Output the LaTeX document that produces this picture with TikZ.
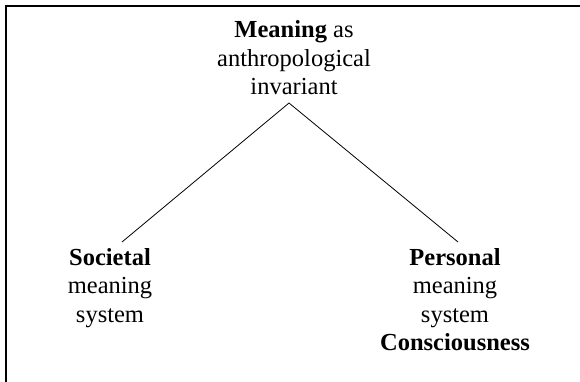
\documentclass[tikz,border=0pt]{standalone}
\usepackage{fontspec}
\setmainfont{Liberation Serif}
\usetikzlibrary{positioning,calc}
\begin{document}
\begin{tikzpicture}[
x=1pt, y=-1pt,
term/.style={
  align=center,
  inner sep=0pt,
  font=\fontsize{24.5}{28.5}\selectfont
  },
link/.style={
  line width=0.8pt
  }
]
\useasboundingbox (0,0) rectangle (580,382);
\draw[line width=1.2pt] (6,382) -- (6,6) -- (580,6);

\node[term, anchor=south] (meaning) at (294,95)
  {\textbf{Meaning} as\\anthropological\\invariant};
\node[term, anchor=north] (societal) at (110,248)
  {\textbf{Societal}\\meaning\\system};
\node[term, anchor=north] (personal) at (455,248)
  {\textbf{Personal}\\meaning\\system\\\textbf{Consciousness}};

\coordinate (apex) at ($(meaning.south)+(-5,8)$);
\draw[link] (apex) -- ($(societal.north)+(12,-6)$);
\draw[link] (apex) -- ($(personal.north)+(3,-6)$);

\end{tikzpicture}
\end{document}
